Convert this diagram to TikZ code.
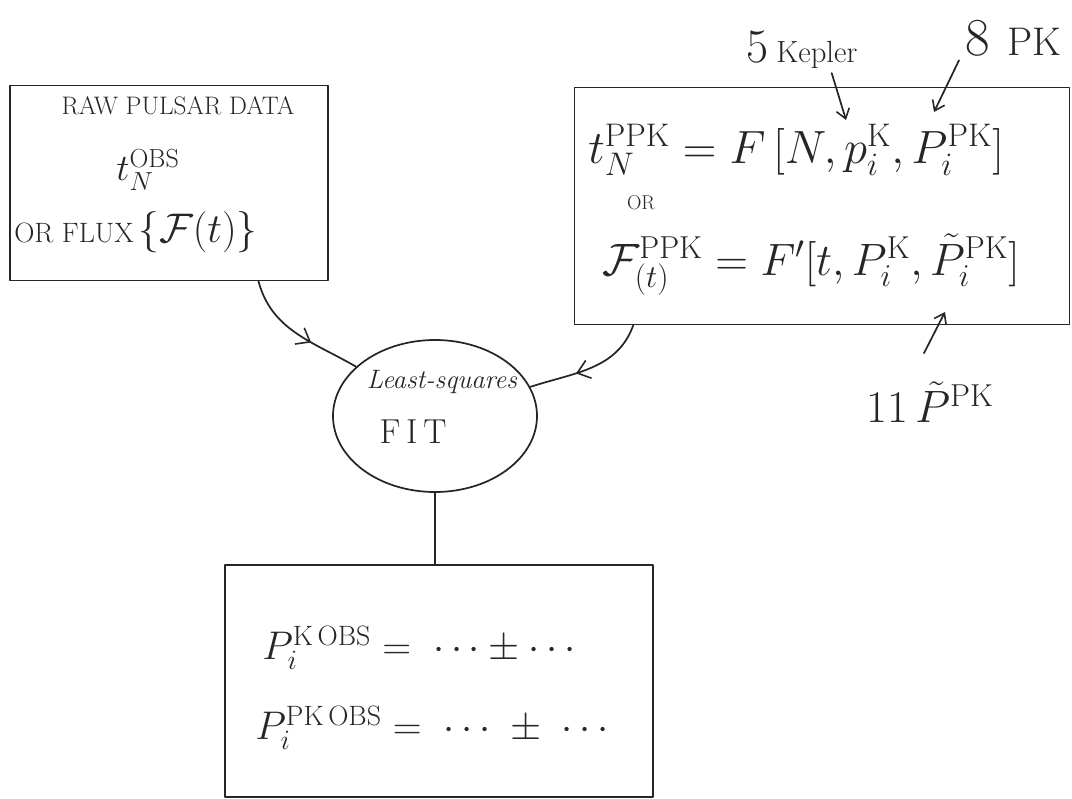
\RequirePackage{fix-cm}
\documentclass[tikz,border=0pt]{standalone}
\usepackage{amsmath}
\usetikzlibrary{arrows.meta,decorations.markings,shapes.geometric,calc}
\begin{document}
\begin{tikzpicture}[x=0.75pt,y=-0.75pt,
  ink/.style={draw=black!85,line width=1.3pt,line join=round,line cap=round},
  boxshape/.style={ink,rectangle,inner sep=0pt},
  txt/.style={inner sep=0pt,text=black!85},
  midarrow/.style={ink,postaction={decorate},decoration={markings,mark=at position #1 with {\arrow{Straight Barb[length=9pt,width=14pt,line width=1.2pt]}}}},
  tiparrow/.style={ink,-{Straight Barb[length=7pt,width=10pt,line width=1.2pt]}}
]
\useasboundingbox (0,0) rectangle (1072,799);
% boxes
\node[boxshape,minimum width=318*0.75pt,minimum height=195*0.75pt] (raw) at (169,183) {};
\node[boxshape,minimum width=495*0.75pt,minimum height=237*0.75pt] (model) at (822,206) {};
\node[ink,ellipse,minimum width=204*0.75pt,minimum height=152*0.75pt,inner sep=0pt] (fit) at (435,416) {};
\node[boxshape,minimum width=428*0.75pt,minimum height=232*0.75pt] (res) at (439,681) {};
% left box text
\node[txt,font=\fontsize{19}{21}\selectfont] (rawt) at (178,106) {RAW PULSAR DATA};
\node[txt,font=\fontsize{28}{30}\selectfont] (tobs) at (148,170) {$t_N^{\mathrm{OBS}}$};
\node[txt,anchor=west] (flux) at (14,232) {\fontsize{21}{23}\selectfont OR FLUX\,\fontsize{31}{33}\selectfont$\{\mathcal{F}(t)\}$};
% right box text
\node[txt,font=\fontsize{35}{37}\selectfont,anchor=west] (eq1) at (588,150) {$t_N^{\mathrm{PPK}} = F\,[N, p_i^{\mathrm{K}}, P_i^{\mathrm{PK}}]$};
\node[txt,font=\fontsize{15}{17}\selectfont] (or) at (641,203) {OR};
\node[txt,font=\fontsize{34}{36}\selectfont,anchor=west] (eq2) at (602,265) {$\mathcal{F}^{\mathrm{PPK}}_{(t)} = F'[t, P_i^{\mathrm{K}}, \tilde{P}_i^{\mathrm{PK}}]$};
% labels above / below
\node[txt,font=\fontsize{36}{38}\selectfont,anchor=west] (kep) at (746,50) {5\,{\fontsize{23}{25}\selectfont Kepler}};
\node[txt,font=\fontsize{40}{42}\selectfont,anchor=west] (pk) at (965,38) {8\,\,{\fontsize{30}{32}\selectfont PK}};
\node[txt,font=\fontsize{34}{36}\selectfont,anchor=west] (ppk) at (866,402) {11\,$\tilde{P}^{\mathrm{PK}}$};
% fit text
\node[txt,font=\fontsize{20}{22}\selectfont\itshape] (ls) at (442,382) {Least-squares};
\node[txt,font=\fontsize{26}{28}\selectfont] (fitt) at (413,432) {F\,I\,T};
% bottom box text
\node[txt,font=\fontsize{30}{32}\selectfont,anchor=west] (r1) at (262,648) {$P_i^{\mathrm{K}\,\mathrm{OBS}} = \;\cdots \pm \cdots$};
\node[txt,font=\fontsize{30}{32}\selectfont,anchor=west] (r2) at (255,728) {$P_i^{\mathrm{PK}\,\mathrm{OBS}} = \;\cdots \;\pm\; \cdots$};
% connectors
\draw[midarrow=0.62] ($(raw.south west)!0.78!(raw.south east)$) to[out=-75,in=150] (fit.148);
\draw[midarrow=0.62] ($(model.south west)!0.12!(model.south east)$) to[out=-110,in=18] (fit.17);
\draw[ink] (fit.south) -- (res.north -| fit.south);
% label arrows
\coordinate (kepend) at (846,120);
\coordinate (pkend) at (934,112);
\coordinate (ppkend) at (945,312);
\draw[tiparrow] (kep.south east) ++(-26,4) -- (kepend);
\draw[tiparrow] (pk.south west) ++(-6,4) -- (pkend);
\draw[tiparrow] (ppk.north west) ++(58,-28) -- (ppkend);
\end{tikzpicture}
\end{document}
